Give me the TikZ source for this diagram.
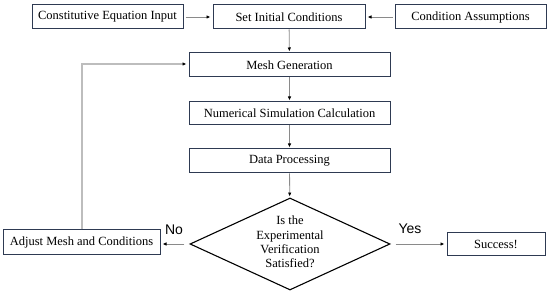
\documentclass[tikz,border=0pt]{standalone}
\usepackage{fontspec}
\setmainfont{Liberation Serif}
\newfontfamily\labfont{Liberation Sans}
\usetikzlibrary{arrows.meta,shapes.geometric}
\definecolor{boxline}{HTML}{2E3A52}
\definecolor{arrline}{HTML}{8A8A8A}
\definecolor{fbline}{HTML}{BDBDBD}
\begin{document}
\begin{tikzpicture}[x=1pt,y=-1pt,
  procbox/.style={draw=boxline,line width=1pt,fill=white,inner sep=0pt,
    font=\fontsize{12.5}{14}\selectfont},
  decbox/.style={diamond,draw=black,line width=1.1pt,aspect=2.17,inner sep=0pt,
    minimum width=200pt,minimum height=92pt},
  dectext/.style={align=center,inner sep=0pt,font=\fontsize{12.5}{14.3}\selectfont},
  flow/.style={draw=arrline,line width=0.8pt,-{Latex[length=4pt,width=3.5pt,color=black]}},
  back/.style={draw=fbline,line width=1.3pt,-{Latex[length=4pt,width=3.5pt,color=black]}},
  lab/.style={font=\labfont\fontsize{14}{16}\selectfont,inner sep=0pt}]
\useasboundingbox (0,0) rectangle (550,296);
\node[procbox,minimum width=151pt,minimum height=24pt] (const) at (107.5,17) {Constitutive Equation Input};
\node[procbox,minimum width=152pt,minimum height=24pt] (set) at (289,17) {Set Initial Conditions};
\node[procbox,minimum width=151pt,minimum height=24pt] (cond) at (470.5,17) {Condition Assumptions};
\node[procbox,minimum width=201pt,minimum height=24pt] (mesh) at (289.5,65) {Mesh Generation};
\node[procbox,minimum width=201pt,minimum height=23pt] (num) at (289.5,113.5) {Numerical Simulation Calculation};
\node[procbox,minimum width=201pt,minimum height=24pt] (data) at (289.5,161) {Data Processing};
\node[decbox] (dec) at (290,244) {};
\node[dectext] (dect) at (290,242) {Is the\\Experimental\\Verification\\Satisfied?};
\node[procbox,minimum width=157pt,minimum height=25pt] (adj) at (81.5,242.5) {Adjust Mesh and Conditions};
\node[procbox,minimum width=98pt,minimum height=23pt] (succ) at (496,244.5) {Success!};
\node[lab] (no) at (174,230) {No};
\node[lab] (yes) at (410,228.5) {Yes};
\coordinate (bend) at (82,64);
\draw[flow,shorten <=2pt,shorten >=2pt] (const) -- (set);
\draw[flow,shorten <=2pt,shorten >=2pt] (cond) -- (set);
\draw[flow,shorten >=1pt] (set) -- (mesh);
\draw[flow,shorten >=1pt] (mesh) -- (num);
\draw[flow,shorten >=1pt] (num) -- (data);
\draw[flow,shorten >=1pt] (data) -- (dec);
\draw[flow,shorten <=5pt,shorten >=2pt] (dec.west) -- (adj.east |- dec.west);
\draw[flow,shorten <=5pt,shorten >=2pt] (dec.east) -- (succ.west |- dec.east);
\draw[back,shorten >=2pt] (adj.north -| bend) -- (bend) -- (mesh.west |- bend);
\end{tikzpicture}
\end{document}
